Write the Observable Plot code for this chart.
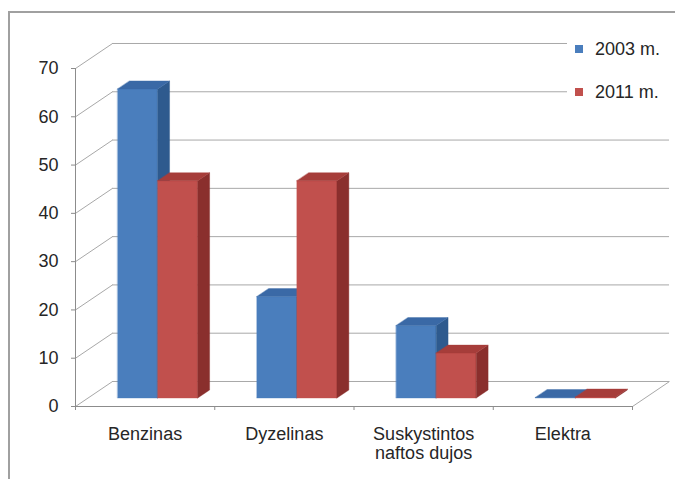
<!DOCTYPE html>
<html>
<head>
<meta charset="utf-8">
<script src="https://cdn.jsdelivr.net/npm/d3@7"></script>
<script src="https://cdn.jsdelivr.net/npm/@observablehq/plot@0.6"></script>
<style>
  body { margin: 0; background: #fff; font-family: "Liberation Sans", Arial, sans-serif; }
  #wrap { position: relative; width: 675px; height: 479px; overflow: hidden; background: #fff; }
  #chart { position: absolute; left: 0; top: 0; }
  #frame { position: absolute; left: 8px; top: 11px; width: 700px; height: 500px;
           border-left: 2px solid #a0a0a0; border-top: 2px solid #a0a0a0; pointer-events: none; }
  #legend { position: absolute; left: 567px; top: 28px; width: 108px; height: 80px;
            background: #fff; font-size: 18px; color: #262626; }
  .item { position: absolute; left: 8px; height: 20px; line-height: 20px; display: flex; align-items: center; white-space: nowrap; }
  .sw { width: 8px; height: 8px; margin-right: 12px; }
</style>
</head>
<body>
<div id="wrap">
  <div id="chart"></div>
  <div id="frame"></div>
  <div id="legend"></div>
</div>
<script>
// Fuel type shares of the car fleet, %
const categories = ["Benzinas", "Dyzelinas", "Suskystintos\nnaftos dujos", "Elektra"];
const seriesNames = ["2003 m.", "2011 m."];
const values2003 = [64, 21, 15, 0.1];
const values2011 = [45, 45, 9.3, 0.2];
const yTicks = [0, 10, 20, 30, 40, 50, 60, 70];

// Face colours per series: front, side, top
const faceColors = [
  {front: "#4a7ebd", side: "#2e5a8e", top: "#3a69a6"},
  {front: "#c1504d", side: "#8a2f2d", top: "#a63d3a"}
];

// Oblique depth of the floor/walls, in x-units and value-units
const DX = 0.266, DY = 5.18;
// Bars sit in the middle slab of the depth
const T0 = 0.34, T1 = 0.66;
const BAR_START = 0.2125, BAR_W = 0.2875;

const seriesValues = [values2003, values2011];

// Build the three visible faces of every column as closed polygons
const faces = [];
categories.forEach((cat, i) => {
  seriesValues.forEach((vals, s) => {
    const v = vals[i];
    const x0 = i + BAR_START + s * BAR_W + T0 * DX;
    const x1 = x0 + BAR_W;
    const b = T0 * DY, t = v + T0 * DY;
    const ddx = (T1 - T0) * DX, ddy = (T1 - T0) * DY;
    const c = faceColors[s];
    const poly = (name, pts, fill) =>
      pts.forEach(([x, y]) => faces.push({id: `${i}-${s}-${name}`, x, y, fill}));
    poly("front", [[x0, b], [x1, b], [x1, t], [x0, t]], c.front);
    poly("side", [[x1, b], [x1 + ddx, b + ddy], [x1 + ddx, t + ddy], [x1, t]], c.side);
    poly("top", [[x0, t], [x1, t], [x1 + ddx, t + ddy], [x0 + ddx, t + ddy]], c.top);
  });
});

const gridColor = "#a8a8a8";
const axisColor = "#8c8c8c";

const chart = Plot.plot({
  width: 675,
  height: 479,
  marginLeft: 75,
  marginRight: 43,
  marginTop: 68,
  marginBottom: 73,
  style: {fontFamily: "'Liberation Sans', Arial, sans-serif", fontSize: "18px", color: "#262626", background: "#fff"},
  x: {domain: [0, categories.length]},
  y: {domain: [0, 70]},
  color: {type: "identity"},
  marks: [
    // back wall gridlines
    Plot.ruleY(yTicks, {y: (d) => d + DY, x1: DX, x2: categories.length + DX, stroke: gridColor, strokeWidth: 1}),
    // side wall gridlines
    Plot.link(yTicks, {x1: 0, y1: (d) => d, x2: DX, y2: (d) => d + DY, stroke: gridColor, strokeWidth: 1}),
    // floor right edge
    Plot.link([0], {x1: categories.length, y1: 0, x2: categories.length + DX, y2: DY, stroke: gridColor, strokeWidth: 1}),
    // floor front edge
    Plot.ruleY([0], {x1: 0, x2: categories.length, stroke: axisColor, strokeWidth: 1}),
    // vertical value axis line
    Plot.ruleX([0], {y1: 0, y2: 70, stroke: axisColor, strokeWidth: 1}),
    Plot.axisY({
      ticks: yTicks, tickSize: 4, tickPadding: 13, fontSize: 18, stroke: axisColor,
      color: "#262626", label: null
    }),
    // category boundary ticks on the floor edge
    Plot.axisX({
      ticks: d3.range(categories.length + 1), tickSize: 4, tickFormat: () => "", stroke: axisColor, label: null
    }),
    // category labels
    Plot.axisX({
      ticks: categories.map((_, i) => i + 0.5), tickSize: 0, tickPadding: 19,
      tickFormat: (d) => categories[Math.floor(d)], fontSize: 18, lineHeight: 1.1,
      color: "#262626", label: null
    }),
    // 3D columns
    Plot.line(faces, {x: "x", y: "y", z: "id", fill: "fill", stroke: "fill", strokeWidth: 0.4, curve: "linear-closed"})
  ]
});
document.getElementById("chart").appendChild(chart);

// legend
const legend = document.getElementById("legend");
seriesNames.forEach((name, s) => {
  const item = document.createElement("div");
  item.className = "item";
  item.style.top = (s === 0 ? 10.5 : 53.5) + "px";
  const sw = document.createElement("span");
  sw.className = "sw";
  sw.style.background = faceColors[s].front;
  const label = document.createElement("span");
  label.textContent = name;
  item.appendChild(sw);
  item.appendChild(label);
  legend.appendChild(item);
});
</script>
</body>
</html>
